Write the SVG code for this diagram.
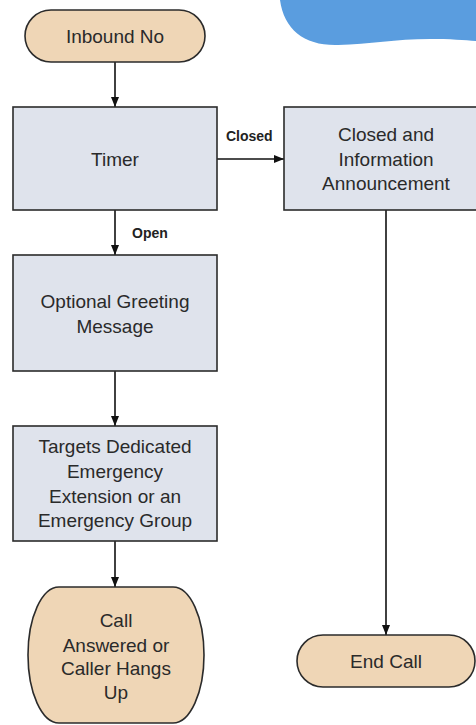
<svg xmlns="http://www.w3.org/2000/svg" width="476" height="725" viewBox="0 0 476 725">
  <style>
    .term { fill: #efd6b6; stroke: #2b2b2b; stroke-width: 1.6; }
    .proc { fill: #dfe3ec; stroke: #2b2b2b; stroke-width: 1.6; }
    .lbl { font-family: "Liberation Sans", Arial, sans-serif; font-size: 19px; fill: #2a2a2a; text-anchor: middle; }
    .edge-lbl { font-family: "Liberation Sans", Arial, sans-serif; font-size: 14px; font-weight: bold; fill: #222; }
    .wire { fill: none; stroke: #111; stroke-width: 1.6; marker-end: url(#arrow); }
  </style>
  <defs>
    <marker id="arrow" viewBox="0 0 10 10" refX="10" refY="5" markerWidth="10" markerHeight="10" markerUnits="userSpaceOnUse" orient="auto">
      <path d="M0,1 L10,5 L0,9 Z" fill="#111"/>
    </marker>
  </defs>

  <rect width="476" height="725" fill="#ffffff"/>

  <!-- decorative blue wave, top right -->
  <path d="M280,0 C284,30 305,46 338,45 C370,44 395,39 430,39 C450,39 465,40 476,41 L476,0 Z" fill="#5a9ddf"/>

  <g id="connectors">
    <path class="wire" d="M115,62 L115,107"/>
    <path class="wire" d="M217,159 L284,159"/>
    <path class="wire" d="M115,210 L115,255"/>
    <path class="wire" d="M115,371 L115,426"/>
    <path class="wire" d="M115,541 L115,587"/>
    <path class="wire" d="M386,210 L386,635"/>
    <text class="edge-lbl" x="226" y="141">Closed</text>
    <text class="edge-lbl" x="132" y="238">Open</text>
  </g>

  <g id="inbound">
    <rect class="term" x="25" y="10" width="180" height="52" rx="26" ry="26"/>
    <text class="lbl" x="115" y="43">Inbound No</text>
  </g>

  <g id="timer">
    <rect class="proc" x="13" y="107" width="204" height="103"/>
    <text class="lbl" x="115" y="166">Timer</text>
  </g>

  <g id="closed-announcement">
    <rect class="proc" x="284" y="107" width="204" height="103"/>
    <text class="lbl" x="386" y="141">Closed and</text>
    <text class="lbl" x="386" y="166">Information</text>
    <text class="lbl" x="386" y="190">Announcement</text>
  </g>

  <g id="greeting">
    <rect class="proc" x="13" y="255" width="204" height="116"/>
    <text class="lbl" x="115" y="308">Optional Greeting</text>
    <text class="lbl" x="115" y="333">Message</text>
  </g>

  <g id="targets">
    <rect class="proc" x="13" y="426" width="204" height="115"/>
    <text class="lbl" x="115" y="453">Targets Dedicated</text>
    <text class="lbl" x="115" y="478">Emergency</text>
    <text class="lbl" x="115" y="503">Extension or an</text>
    <text class="lbl" x="115" y="527">Emergency Group</text>
  </g>

  <g id="call-answered">
    <path class="term" d="M59,587 L173,587 A31,68 0 0 1 173,723 L59,723 A31,68 0 0 1 59,587 Z"/>
    <text class="lbl" x="116" y="627">Call</text>
    <text class="lbl" x="116" y="652">Answered or</text>
    <text class="lbl" x="116" y="675">Caller Hangs</text>
    <text class="lbl" x="116" y="699">Up</text>
  </g>

  <g id="end-call">
    <rect class="term" x="297" y="635" width="178" height="52" rx="26" ry="26"/>
    <text class="lbl" x="386" y="668">End Call</text>
  </g>
</svg>
